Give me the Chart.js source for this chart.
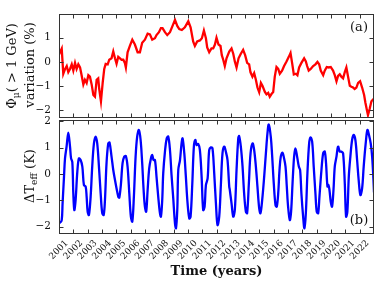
<!DOCTYPE html>
<html><head><meta charset="utf-8">
<script src="https://cdn.jsdelivr.net/npm/chart.js@4.4.1/dist/chart.umd.min.js"></script>
<style>
html,body{margin:0;padding:0;background:#fff;}
#wrap{position:relative;width:381px;height:286px;background:#fff;}
canvas{position:absolute;left:0;top:0;}
</style></head><body>
<div id="wrap"><canvas id="c1" width="381" height="286"></canvas><canvas id="c2" width="381" height="286"></canvas></div>
<script>
const yearTicks = [2001,2002,2003,2004,2005,2006,2007,2008,2009,2010,2011,2012,2013,2014,2015,2016,2017,2018,2019,2020,2021,2022];
const topTicks = [-2,-1,0,1];
const bottomTicks = [-2,-1,0,1,2];

const redT = [2001.00,2001.07,2001.19,2001.30,2001.42,2001.54,2001.65,2001.77,2001.89,2002.00,2002.12,2002.23,2002.35,2002.47,2002.58,2002.70,2002.81,2002.93,2003.05,2003.16,2003.28,2003.40,2003.51,2003.63,2003.74,2003.81,2003.93,2004.05,2004.16,2004.26,2004.40,2004.51,2004.67,2004.79,2004.91,2005.02,2005.14,2005.26,2005.37,2005.49,2005.60,2005.67,2005.79,2005.95,2006.12,2006.30,2006.49,2006.65,2006.81,2007.00,2007.19,2007.35,2007.51,2007.70,2007.81,2007.98,2008.12,2008.23,2008.40,2008.56,2008.75,2008.93,2009.10,2009.26,2009.40,2009.58,2009.79,2010.03,2010.19,2010.37,2010.49,2010.65,2010.84,2010.98,2011.12,2011.26,2011.35,2011.49,2011.65,2011.77,2011.89,2012.00,2012.14,2012.28,2012.37,2012.47,2012.58,2012.70,2012.89,2013.05,2013.17,2013.28,2013.40,2013.54,2013.70,2013.86,2014.00,2014.14,2014.28,2014.37,2014.51,2014.63,2014.75,2014.86,2014.98,2015.10,2015.21,2015.38,2015.49,2015.61,2015.72,2015.84,2015.96,2016.07,2016.19,2016.31,2016.42,2016.58,2016.72,2016.89,2017.05,2017.17,2017.28,2017.40,2017.54,2017.65,2017.77,2017.93,2018.12,2018.24,2018.33,2018.44,2018.58,2018.75,2018.91,2019.05,2019.17,2019.28,2019.45,2019.56,2019.70,2019.84,2019.98,2020.14,2020.26,2020.38,2020.49,2020.61,2020.72,2020.84,2020.96,2021.07,2021.19,2021.31,2021.42,2021.54,2021.65,2021.77,2021.89,2022.03,2022.17,2022.31,2022.40,2022.51,2022.58,2022.70,2022.82,2022.93,2023.00];
const redV = [0.30,0.40,0.55,-0.49,-0.30,-0.17,-0.42,-0.29,-0.10,-0.36,-0.04,-0.29,-0.10,-0.23,-0.55,-0.93,-0.74,-0.87,-0.55,-0.61,-0.93,-1.37,-1.44,-0.74,-0.68,-1.12,-1.63,-0.87,-0.29,-0.08,-0.10,0.09,0.15,0.43,0.15,-0.08,0.21,0.15,0.09,0.09,-0.04,-0.23,0.40,0.66,0.92,0.72,0.40,0.40,0.79,0.92,1.17,1.14,0.92,0.98,1.11,1.23,1.40,1.40,1.23,1.11,1.23,1.49,1.74,1.49,1.36,1.32,1.43,1.68,1.43,0.85,0.66,0.85,0.89,0.98,1.30,0.98,0.60,0.40,0.56,0.56,0.72,1.00,0.72,0.66,0.28,0.09,-0.17,0.15,0.43,0.56,0.34,0.02,-0.23,0.15,0.34,0.50,0.28,-0.04,-0.10,-0.42,-0.61,-0.46,-0.74,-1.06,-1.25,-0.87,-0.99,-1.24,-1.34,-1.28,-1.44,-1.33,-1.25,-0.61,-0.21,-0.29,-0.49,-0.36,-0.17,0.02,0.21,0.37,-0.04,-0.52,-0.49,-0.55,-0.23,-0.04,0.15,0.02,-0.17,-0.36,-0.29,-0.17,-0.10,0.00,-0.10,-0.36,-0.55,-0.36,-0.21,-0.23,-0.21,-0.36,-0.55,-0.80,-0.58,-0.51,-0.61,-0.68,-0.42,-0.23,-0.61,-0.99,-1.03,-1.06,-1.12,-1.06,-0.87,-0.80,-1.06,-1.37,-1.69,-2.01,-2.20,-1.94,-1.63,-1.56,-1.60];

const blueT = [2001.00,2001.07,2001.19,2001.25,2001.35,2001.42,2001.53,2001.65,2001.77,2001.84,2001.93,2002.00,2002.07,2002.16,2002.28,2002.39,2002.51,2002.63,2002.74,2002.86,2002.93,2003.00,2003.09,2003.21,2003.32,2003.44,2003.56,2003.67,2003.79,2003.91,2004.02,2004.12,2004.21,2004.32,2004.44,2004.53,2004.67,2004.79,2004.91,2005.02,2005.14,2005.21,2005.32,2005.44,2005.56,2005.67,2005.79,2005.91,2006.02,2006.12,2006.23,2006.35,2006.46,2006.58,2006.70,2006.81,2006.91,2007.00,2007.09,2007.19,2007.30,2007.42,2007.51,2007.60,2007.70,2007.81,2007.93,2008.05,2008.12,2008.21,2008.28,2008.40,2008.52,2008.63,2008.75,2008.86,2008.98,2009.10,2009.17,2009.26,2009.33,2009.45,2009.56,2009.63,2009.75,2009.86,2009.98,2010.10,2010.19,2010.31,2010.42,2010.52,2010.61,2010.72,2010.84,2010.96,2011.07,2011.17,2011.26,2011.38,2011.49,2011.61,2011.72,2011.84,2011.96,2012.07,2012.19,2012.31,2012.42,2012.54,2012.65,2012.77,2012.89,2012.93,2013.05,2013.17,2013.28,2013.40,2013.52,2013.58,2013.70,2013.82,2013.93,2014.05,2014.14,2014.26,2014.38,2014.52,2014.63,2014.75,2014.86,2014.98,2015.07,2015.19,2015.33,2015.45,2015.56,2015.65,2015.79,2015.89,2016.00,2016.12,2016.21,2016.31,2016.40,2016.49,2016.61,2016.72,2016.82,2016.91,2017.00,2017.12,2017.21,2017.31,2017.42,2017.51,2017.63,2017.75,2017.84,2017.93,2018.05,2018.14,2018.24,2018.35,2018.47,2018.56,2018.68,2018.79,2018.91,2019.00,2019.10,2019.19,2019.33,2019.45,2019.56,2019.65,2019.75,2019.82,2019.89,2019.98,2020.07,2020.17,2020.26,2020.38,2020.49,2020.61,2020.72,2020.84,2020.96,2021.05,2021.14,2021.24,2021.35,2021.47,2021.58,2021.70,2021.82,2021.93,2022.05,2022.17,2022.28,2022.42,2022.54,2022.65,2022.77,2022.87,2022.96,2023.00];
const blueV = [-1.80,-1.85,-1.75,-1.12,-0.10,0.59,1.04,1.57,1.04,0.60,0.45,-0.74,-1.37,-0.99,0.09,0.59,0.53,0.28,-0.42,-0.48,-0.86,-1.43,-1.56,-0.86,0.28,1.16,1.42,1.16,0.28,-0.74,-1.49,-1.56,-0.99,0.41,1.16,1.19,0.66,0.15,-0.23,-0.55,-0.86,-0.90,-0.42,0.41,0.66,0.68,0.28,-0.74,-1.62,-1.81,-0.86,0.66,1.42,1.67,1.29,0.41,-0.61,-1.24,-1.43,-0.61,0.21,0.59,0.72,0.53,0.53,-0.10,-0.86,-1.49,-1.62,-0.99,0.03,0.85,1.35,1.42,0.91,-0.04,-0.93,-1.88,-2.06,-1.37,0.15,0.53,1.16,1.35,0.79,-0.10,-1.12,-1.69,-1.62,-0.36,1.04,1.29,1.10,1.14,0.91,-0.10,-1.37,-1.24,-0.42,-0.17,0.91,1.01,0.97,0.03,-1.12,-1.94,-1.62,-0.36,0.79,1.04,0.85,0.53,-0.48,-0.61,-1.12,-1.62,-1.37,0.15,1.35,1.44,1.04,0.28,-0.74,-1.43,-1.49,-0.36,0.79,1.16,0.91,0.28,-0.48,-1.30,-1.49,-0.99,-0.10,0.79,1.55,1.88,1.42,0.66,-0.36,-1.18,-1.24,-0.74,0.15,0.66,0.81,0.59,0.28,-0.48,-1.24,-1.75,-1.43,-0.36,0.66,0.97,0.66,0.28,0.15,-0.74,-1.62,-2.06,-1.49,0.03,1.16,1.39,1.23,0.28,-0.74,-1.43,-1.49,-0.86,0.15,0.79,0.85,0.41,-0.48,-0.42,-0.61,-1.06,-1.24,-0.61,0.28,0.66,1.04,0.85,0.85,0.79,-0.36,-1.62,-1.43,-0.10,0.66,1.29,1.48,1.29,0.53,-0.23,-0.80,-0.55,0.28,1.16,1.67,1.48,1.16,0.66,-0.20,-0.70];

const FONT = '"DejaVu Serif", serif';
const TXT = '#111';
const fmt = v => (v < 0 ? '\u2212' + Math.abs(v) : String(v));

function drawVertical(ctx, cx, cy, parts, size) {
  ctx.save();
  ctx.translate(cx, cy);
  ctx.rotate(-Math.PI / 2);
  ctx.textBaseline = 'middle';
  ctx.textAlign = 'left';
  ctx.fillStyle = TXT;
  let total = 0;
  const ws = parts.map(p => {
    ctx.font = (p.sub ? size * 0.7 : size) + 'px ' + FONT;
    const w = ctx.measureText(p.t).width; total += w; return w;
  });
  let xx = -total / 2;
  parts.forEach((p, i) => {
    ctx.font = (p.sub ? size * 0.7 : size) + 'px ' + FONT;
    ctx.fillText(p.t, xx, p.sub ? size * 0.3 : 0);
    xx += ws[i];
  });
  ctx.restore();
}

function framePlugin(yTicks, panelText, panelY, titles) {
  return {
    id: 'frame',
    afterDraw(chart) {
      const ctx = chart.ctx, a = chart.chartArea, xs = chart.scales.x, ys = chart.scales.y;
      ctx.save();
      ctx.strokeStyle = '#333';
      ctx.lineWidth = 1;
      const L = Math.round(a.left) + 0.5, R = Math.round(a.right) - 0.5;
      const T = Math.round(a.top) + 0.5, B = Math.round(a.bottom) - 0.5;
      ctx.strokeRect(L, T, R - L, B - T);
      const tl = 4;
      ctx.beginPath();
      yearTicks.forEach(v => {
        const px = Math.round(xs.getPixelForValue(v)) + 0.5;
        ctx.moveTo(px, T); ctx.lineTo(px, T + tl);
        ctx.moveTo(px, B); ctx.lineTo(px, B - tl);
      });
      yTicks.forEach(v => {
        const py = Math.round(ys.getPixelForValue(v)) + 0.5;
        ctx.moveTo(L, py); ctx.lineTo(L + tl, py);
        ctx.moveTo(R, py); ctx.lineTo(R - tl, py);
      });
      ctx.stroke();
      ctx.fillStyle = TXT;
      ctx.font = '13px ' + FONT;
      ctx.textAlign = 'center';
      ctx.textBaseline = 'middle';
      ctx.fillText(panelText, 359, panelY);
      ctx.restore();
      titles.forEach(t => drawVertical(ctx, t.x, t.y, t.parts, 13));
    }
  };
}

function yScale(min, max) {
  return {
    type: 'linear', min: min, max: max,
    afterFit(s) { s.width = 59; },
    grid: { display: false, drawTicks: false },
    border: { display: false },
    ticks: { stepSize: 1, includeBounds: false, padding: 8, font: { family: FONT, size: 10.5 }, color: TXT, callback: fmt }
  };
}

const base = {
  responsive: false, animation: false, events: [],
  plugins: { legend: { display: false }, tooltip: { enabled: false } }
};

new Chart(document.getElementById('c1'), {
  type: 'line',
  data: { datasets: [{ data: redT.map((t, i) => ({ x: t, y: redV[i] })), borderColor: '#ff0000', borderWidth: 2.3, pointRadius: 0, tension: 0, fill: false }] },
  options: Object.assign({}, base, {
    layout: { padding: { top: 6, right: 7, bottom: 168, left: 0 } },
    scales: {
      x: { type: 'linear', min: 2001, max: 2023, display: false },
      y: yScale(-2.32, 1.97)
    }
  }),
  plugins: [framePlugin(topTicks, '(a)', 28, [
    { x: 12.5, y: 66, parts: [{ t: '\u03A6' }, { t: '\u03BC', sub: true }, { t: '( > 1 GeV)' }] },
    { x: 31, y: 65, parts: [{ t: 'variation (%)' }] }
  ])]
});

new Chart(document.getElementById('c2'), {
  type: 'line',
  data: { datasets: [{ data: blueT.map((t, i) => ({ x: t, y: blueV[i] })), borderColor: '#0000ff', borderWidth: 2.3, pointRadius: 0, tension: 0.35, fill: false }] },
  options: Object.assign({}, base, {
    layout: { padding: { top: 120, right: 7, bottom: 0, left: 0 } },
    scales: {
      x: {
        type: 'linear', min: 2001, max: 2023,
        afterBuildTicks(s) { s.ticks = yearTicks.map(v => ({ value: v })); },
        afterFit(s) { s.height = 52; },
        grid: { display: false, drawTicks: false },
        border: { display: false },
        ticks: { autoSkip: false, minRotation: 45, maxRotation: 45, padding: 4, labelOffset: 8, font: { family: FONT, size: 9 }, color: TXT, callback: v => String(v) },
        title: { display: true, text: 'Time (years)', font: { family: FONT, size: 13, weight: 'bold' }, color: TXT, padding: { top: 0, bottom: 7 } }
      },
      y: yScale(-2.28, 2.05)
    }
  }),
  plugins: [framePlugin(bottomTicks, '(b)', 221, [
    { x: 31, y: 176, parts: [{ t: '\u0394T' }, { t: 'eff', sub: true }, { t: ' (K)' }] }
  ])]
});
</script>
</body></html>
